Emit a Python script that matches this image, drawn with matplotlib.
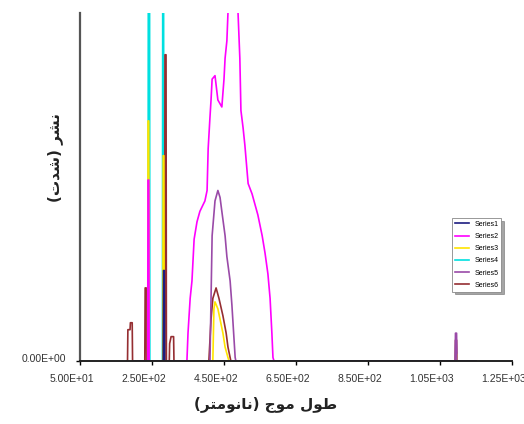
import matplotlib
matplotlib.use("Agg")
import matplotlib.pyplot as plt
from matplotlib.transforms import ScaledTranslation

# wavelength (nm) / intensity readings per series (100 = top of plot area)
s1_wl = [200, 281, 282, 284, 285, 1150]
s1_val = [0, 0, 26, 26, 0, 0]

s2_wl = [200, 238, 239, 241, 242, 347, 350, 356, 361, 367, 375, 383, 397, 403, 406,
         411, 414, 417, 425, 433, 444, 450, 453, 458, 461, 472, 483, 489, 494, 497,
         503, 508, 517, 528, 536, 544, 556, 564, 572, 578, 583, 586, 589, 1150]
s2_val = [0, 0, 52, 52, 0, 0, 8, 18, 23, 35, 40, 43, 46, 49, 61,
          70, 75, 81, 82, 75, 73, 81, 87, 92, 100, 110, 110, 100, 87, 72,
          67, 62, 51, 48, 45, 42, 36, 31, 25, 18, 8, 1, 0, 0]

s3_wl = [200, 238, 239, 241, 242, 280, 281, 283, 284, 419, 422, 425, 433, 439, 447,
         453, 461, 464, 1094, 1096, 1098, 1150]
s3_val = [0, 0, 69, 69, 0, 0, 59, 59, 0, 0, 15, 17, 15, 12, 8,
          4, 1, 0, 0, 2, 0, 0]

s4_wl = [200, 239, 240, 243, 244, 279, 280, 282, 283, 1150]
s4_val = [0, 0, 150, 150, 0, 0, 140, 140, 0, 0]

s5_wl = [200, 411, 414, 417, 425, 433, 439, 444, 453, 458, 467, 472, 475, 481, 483,
         1092, 1093, 1096, 1097, 1150]
s5_val = [0, 0, 18, 36, 46, 49, 47, 43, 36, 30, 23, 16, 11, 1, 0,
          0, 8, 8, 0, 0]

s6_wl = [180, 182, 183, 189, 190, 195, 196, 230, 231, 234, 235, 285, 286, 289, 290,
         298, 299, 303, 310, 311, 408, 414, 419, 428, 436, 447, 456, 461, 467, 469,
         1092, 1093, 1096, 1097, 1150]
s6_val = [0, 0, 9, 9, 11, 11, 0, 0, 21, 21, 0, 0, 88, 88, 0,
          0, 5, 7, 7, 0, 0, 12, 18, 21, 18, 13, 8, 4, 1, 0,
          0, 6, 6, 0, 0]

series_names = ["Series1", "Series2", "Series3", "Series4", "Series5", "Series6"]
x_ticks = [50, 250, 450, 650, 850, 1050, 1250]
x_tick_labels = ["5.00E+01", "2.50E+02", "4.50E+02", "6.50E+02", "8.50E+02",
                 "1.05E+03", "1.25E+03"]

x_title = "طول موج (نانومتر)"
y_title = "نشر (شدت)"

# contextual forms (isolated, final, initial, medial) for the letters used
FORMS = {
    "ا": ("\uFE8D", "\uFE8E", None, None),
    "ت": ("\uFE95", "\uFE96", "\uFE97", "\uFE98"),
    "ج": ("\uFE9D", "\uFE9E", "\uFE9F", "\uFEA0"),
    "د": ("\uFEA9", "\uFEAA", None, None),
    "ر": ("\uFEAD", "\uFEAE", None, None),
    "ش": ("\uFEB5", "\uFEB6", "\uFEB7", "\uFEB8"),
    "ط": ("\uFEC1", "\uFEC2", "\uFEC3", "\uFEC4"),
    "ل": ("\uFEDD", "\uFEDE", "\uFEDF", "\uFEE0"),
    "م": ("\uFEE1", "\uFEE2", "\uFEE3", "\uFEE4"),
    "ن": ("\uFEE5", "\uFEE6", "\uFEE7", "\uFEE8"),
    "و": ("\uFEED", "\uFEEE", None, None),
}


def shape(text):
    out = []
    for i, ch in enumerate(text):
        if ch not in FORMS:
            out.append(ch)
            continue
        prev = text[i - 1] if i > 0 else ""
        nxt = text[i + 1] if i + 1 < len(text) else ""
        join_prev = prev in FORMS and FORMS[prev][2] is not None
        join_next = nxt in FORMS and FORMS[ch][2] is not None
        iso, fin, ini, med = FORMS[ch]
        if join_prev and join_next:
            out.append(med)
        elif join_prev:
            out.append(fin)
        elif join_next:
            out.append(ini)
        else:
            out.append(iso)
    return "".join(reversed(out)).translate(str.maketrans("()", ")("))


def main() -> None:
    fig = plt.figure(figsize=(5.24, 4.24), dpi=100)
    ax = fig.add_axes([80 / 524, 63 / 424, 432 / 524, 348 / 424])

    data = [(s1_wl, s1_val), (s2_wl, s2_val), (s3_wl, s3_val),
            (s4_wl, s4_val), (s5_wl, s5_val), (s6_wl, s6_val)]
    colors = ["#1c1c80", "#ff00ff", "#ffe400", "#00e0e0", "#9a4aa8", "#952e32"]
    zorders = [2.3, 2.2, 2.1, 2.0, 2.15, 2.05]
    for (wl, val), name, c, z in zip(data, series_names, colors, zorders):
        ax.plot(wl, val, color=c, lw=1.2, label=name, zorder=z)

    ax.set_xlim(50, 1250)
    ax.set_ylim(0, 100)
    ax.set_xticks(x_ticks)
    ax.set_xticklabels(x_tick_labels, fontsize=7.5, family="Liberation Sans",
                       color="#333333")
    ax.set_yticks([0])
    ax.set_yticklabels(["0.00E+00"], fontsize=7.5, family="Liberation Sans",
                       color="#333333")
    ax.tick_params(axis="x", direction="out", length=3, width=1, pad=6)
    ax.tick_params(axis="y", direction="out", length=3, width=1, pad=7)
    # Excel draws these labels a little left of their ticks
    shift = ScaledTranslation(-8 / 100, 0, fig.dpi_scale_trans)
    for lbl in ax.get_xticklabels():
        lbl.set_transform(lbl.get_transform() + shift)
    lift = ScaledTranslation(0, 3 / 100, fig.dpi_scale_trans)
    for lbl in ax.get_yticklabels():
        lbl.set_transform(lbl.get_transform() + lift)

    for side in ["top", "right"]:
        ax.spines[side].set_visible(False)
    ax.spines["left"].set_color("#555555")
    ax.spines["left"].set_linewidth(1.6)
    ax.spines["bottom"].set_color("#222222")
    ax.spines["bottom"].set_linewidth(1.4)

    ax.set_xlabel(shape(x_title), fontsize=11, family="DejaVu Sans",
                  fontweight="bold", color="#222222")
    ax.xaxis.set_label_coords(0.43, -0.10)
    ax.set_ylabel(shape(y_title), fontsize=11, family="DejaVu Sans",
                  fontweight="bold", color="#222222")
    ax.yaxis.set_label_coords(-0.04, 0.586)

    leg = fig.legend(loc="upper left", bbox_to_anchor=(452 / 524, 206 / 424),
                     bbox_transform=fig.transFigure, borderaxespad=0,
                     handlelength=2.0, labelspacing=0.75,
                     fancybox=False, shadow=True, edgecolor="#888888",
                     prop={"family": "Liberation Sans", "size": 5})
    leg.get_frame().set_linewidth(0.6)

    fig.savefig("out.png", dpi=100)


if __name__ == "__main__":
    main()
